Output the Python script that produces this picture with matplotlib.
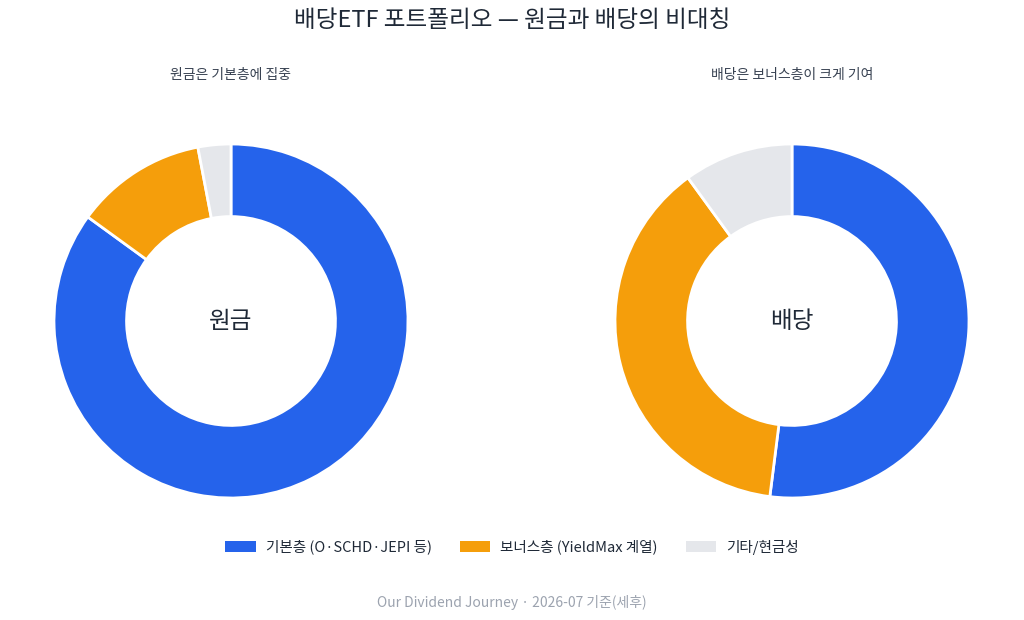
import matplotlib
matplotlib.use("Agg")
import matplotlib.pyplot as plt
from matplotlib.patches import Patch

plt.rcParams['font.family'] = ['Noto Sans CJK KR', 'DejaVu Sans']

categories = ['기본층 (O·SCHD·JEPI 등)', '보너스층 (YieldMax 계열)', '기타/현금성']
principal = [85, 12, 3]
dividend = [52, 38, 10]
colors = ['#2563EB', '#F59E0B', '#E5E7EB']

fig = plt.figure(figsize=(10.24, 6.2), dpi=100)
fig.patch.set_facecolor('white')

fig.text(0.5, 0.967, '배당ETF 포트폴리오 — 원금과 배당의 비대칭', ha='center', va='center',
         fontsize=17, color='#1F2937')

panels = [
    (231, principal, '원금', '원금은 기본층에 집중'),
    (792, dividend, '배당', '배당은 보너스층이 크게 기여'),
]
r_px = 177
cy = 321
for cx, vals, center, sub in panels:
    ax = fig.add_axes([(cx - r_px) / 1024, (620 - cy - r_px) / 620, 2 * r_px / 1024, 2 * r_px / 620])
    ax.pie(vals, colors=colors, startangle=90, counterclock=False, radius=1,
           wedgeprops=dict(width=0.41, edgecolor='white', linewidth=2))
    ax.set_xlim(-1.0, 1.0)
    ax.set_ylim(-1.0, 1.0)
    ax.set_aspect('equal')
    ax.text(0, 0, center, ha='center', va='center', fontsize=17, color='#1F2937')
    fig.text(cx / 1024, 1 - 75 / 620, sub, ha='center', va='center', fontsize=10, color='#374151')

handles = [Patch(facecolor=c, edgecolor='none') for c in colors]
fig.legend(handles, categories, loc='center', bbox_to_anchor=(0.5, 1 - 547 / 620), ncol=3,
           frameon=False, fontsize=10.5, handlelength=2.1, handleheight=0.7,
           columnspacing=1.9, handletextpad=0.7, labelcolor='#1F2937')

fig.text(0.5, 1 - 602 / 620, 'Our Dividend Journey · 2026-07 기준(세후)', ha='center', va='center',
         fontsize=10, color='#9CA3AF')

fig.savefig('out.png', dpi=100, facecolor='white')
